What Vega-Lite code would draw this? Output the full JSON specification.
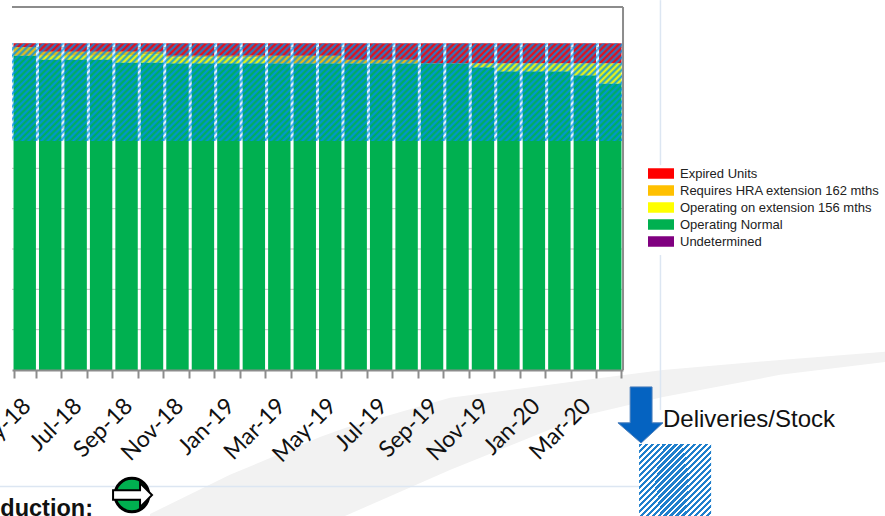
{"$schema":"https://vega.github.io/schema/vega-lite/v6.json","width":885,"height":516,"autosize":{"type":"none"},"padding":0,"background":"white","view":{"stroke":null},
"datasets":{
"units":[
{"month":"May-18","status":"Expired Units","value":10,"rank":4},{"month":"May-18","status":"Requires HRA extension 162 mths","value":21,"rank":3},{"month":"May-18","status":"Operating Normal","value":779,"rank":1},
{"month":"Jun-18","status":"Expired Units","value":21,"rank":4},{"month":"Jun-18","status":"Requires HRA extension 162 mths","value":10,"rank":3},{"month":"Jun-18","status":"Operating on extension 156 mths","value":10,"rank":2},{"month":"Jun-18","status":"Operating Normal","value":769,"rank":1},
{"month":"Jul-18","status":"Expired Units","value":21,"rank":4},{"month":"Jul-18","status":"Requires HRA extension 162 mths","value":10,"rank":3},{"month":"Jul-18","status":"Operating on extension 156 mths","value":10,"rank":2},{"month":"Jul-18","status":"Operating Normal","value":769,"rank":1},
{"month":"Aug-18","status":"Expired Units","value":21,"rank":4},{"month":"Aug-18","status":"Requires HRA extension 162 mths","value":10,"rank":3},{"month":"Aug-18","status":"Operating on extension 156 mths","value":10,"rank":2},{"month":"Aug-18","status":"Operating Normal","value":769,"rank":1},
{"month":"Sep-18","status":"Expired Units","value":21,"rank":4},{"month":"Sep-18","status":"Requires HRA extension 162 mths","value":8,"rank":3},{"month":"Sep-18","status":"Operating on extension 156 mths","value":19,"rank":2},{"month":"Sep-18","status":"Operating Normal","value":762,"rank":1},
{"month":"Oct-18","status":"Expired Units","value":21,"rank":4},{"month":"Oct-18","status":"Requires HRA extension 162 mths","value":6,"rank":3},{"month":"Oct-18","status":"Operating on extension 156 mths","value":21,"rank":2},{"month":"Oct-18","status":"Operating Normal","value":762,"rank":1},
{"month":"Nov-18","status":"Expired Units","value":31,"rank":4},{"month":"Nov-18","status":"Requires HRA extension 162 mths","value":4,"rank":3},{"month":"Nov-18","status":"Operating on extension 156 mths","value":15,"rank":2},{"month":"Nov-18","status":"Operating Normal","value":760,"rank":1},
{"month":"Dec-18","status":"Expired Units","value":31,"rank":4},{"month":"Dec-18","status":"Requires HRA extension 162 mths","value":4,"rank":3},{"month":"Dec-18","status":"Operating on extension 156 mths","value":15,"rank":2},{"month":"Dec-18","status":"Operating Normal","value":760,"rank":1},
{"month":"Jan-19","status":"Expired Units","value":31,"rank":4},{"month":"Jan-19","status":"Requires HRA extension 162 mths","value":4,"rank":3},{"month":"Jan-19","status":"Operating on extension 156 mths","value":15,"rank":2},{"month":"Jan-19","status":"Operating Normal","value":760,"rank":1},
{"month":"Feb-19","status":"Expired Units","value":31,"rank":4},{"month":"Feb-19","status":"Requires HRA extension 162 mths","value":4,"rank":3},{"month":"Feb-19","status":"Operating on extension 156 mths","value":15,"rank":2},{"month":"Feb-19","status":"Operating Normal","value":760,"rank":1},
{"month":"Mar-19","status":"Expired Units","value":31,"rank":4},{"month":"Mar-19","status":"Requires HRA extension 162 mths","value":19,"rank":3},{"month":"Mar-19","status":"Operating Normal","value":760,"rank":1},
{"month":"Apr-19","status":"Expired Units","value":31,"rank":4},{"month":"Apr-19","status":"Requires HRA extension 162 mths","value":19,"rank":3},{"month":"Apr-19","status":"Operating Normal","value":760,"rank":1},
{"month":"May-19","status":"Expired Units","value":31,"rank":4},{"month":"May-19","status":"Requires HRA extension 162 mths","value":19,"rank":3},{"month":"May-19","status":"Operating Normal","value":760,"rank":1},
{"month":"Jun-19","status":"Expired Units","value":41,"rank":4},{"month":"Jun-19","status":"Requires HRA extension 162 mths","value":9,"rank":3},{"month":"Jun-19","status":"Operating Normal","value":760,"rank":1},
{"month":"Jul-19","status":"Expired Units","value":41,"rank":4},{"month":"Jul-19","status":"Requires HRA extension 162 mths","value":9,"rank":3},{"month":"Jul-19","status":"Operating Normal","value":760,"rank":1},
{"month":"Aug-19","status":"Expired Units","value":41,"rank":4},{"month":"Aug-19","status":"Requires HRA extension 162 mths","value":9,"rank":3},{"month":"Aug-19","status":"Operating Normal","value":760,"rank":1},
{"month":"Sep-19","status":"Expired Units","value":50,"rank":4},{"month":"Sep-19","status":"Operating Normal","value":760,"rank":1},
{"month":"Oct-19","status":"Expired Units","value":50,"rank":4},{"month":"Oct-19","status":"Operating Normal","value":760,"rank":1},
{"month":"Nov-19","status":"Expired Units","value":50,"rank":4},{"month":"Nov-19","status":"Operating on extension 156 mths","value":10,"rank":2},{"month":"Nov-19","status":"Operating Normal","value":750,"rank":1},
{"month":"Dec-19","status":"Expired Units","value":50,"rank":4},{"month":"Dec-19","status":"Operating on extension 156 mths","value":20,"rank":2},{"month":"Dec-19","status":"Operating Normal","value":740,"rank":1},
{"month":"Jan-20","status":"Expired Units","value":50,"rank":4},{"month":"Jan-20","status":"Operating on extension 156 mths","value":20,"rank":2},{"month":"Jan-20","status":"Operating Normal","value":740,"rank":1},
{"month":"Feb-20","status":"Expired Units","value":50,"rank":4},{"month":"Feb-20","status":"Operating on extension 156 mths","value":20,"rank":2},{"month":"Feb-20","status":"Operating Normal","value":740,"rank":1},
{"month":"Mar-20","status":"Expired Units","value":50,"rank":4},{"month":"Mar-20","status":"Operating on extension 156 mths","value":30,"rank":2},{"month":"Mar-20","status":"Operating Normal","value":730,"rank":1},
{"month":"Apr-20","status":"Expired Units","value":50,"rank":4},{"month":"Apr-20","status":"Operating on extension 156 mths","value":50,"rank":2},{"month":"Apr-20","status":"Operating Normal","value":710,"rank":1}
],
"hatch":[{"a":0,"b":1},{"a":1,"b":2},{"a":2,"b":3},{"a":3,"b":4},{"a":4,"b":5},{"a":5,"b":6},{"a":6,"b":7},{"a":7,"b":8},{"a":8,"b":9},{"a":9,"b":10},{"a":10,"b":11},{"a":11,"b":12},{"a":12,"b":13},{"a":13,"b":14},{"a":14,"b":15},{"a":15,"b":16},{"a":16,"b":17},{"a":17,"b":18},{"a":18,"b":19},{"a":19,"b":20},{"a":20,"b":21},{"a":21,"b":22},{"a":22,"b":23},{"a":23,"b":24}],
"swoosh":[{"x":5.42,"y":-357,"y2":-362},{"x":8.56,"y":-260,"y2":-362},{"x":12.1,"y":-166,"y2":-362},{"x":13.08,"y":-144,"y2":-362},{"x":17.2,"y":-69,"y2":-248},{"x":22.51,"y":-25,"y2":-112},{"x":25.57,"y":0,"y2":-67},{"x":30.17,"y":25,"y2":-12},{"x":34.29,"y":45,"y2":20}],
"pale":[{"x":25.47,"x2":25.47,"y":917,"y2":508},{"x":25.47,"x2":25.47,"y":285,"y2":-99},{"x":-0.471,"x2":24.67,"y":-289,"y2":-289}],
"grid":[{"y":100},{"y":200},{"y":300},{"y":400},{"y":500},{"y":600},{"y":700},{"y":800}],
"frame":[{"x":0,"x2":24,"y":900,"y2":900},{"x":24,"x2":24,"y":900,"y2":0}],
"swatch":[{"x":24.63,"x2":26.04,"y":-183.5,"y2":-272.7},{"x":26.04,"x2":27.46,"y":-183.5,"y2":-272.7},{"x":24.63,"x2":26.04,"y":-272.7,"y2":-362},{"x":26.04,"x2":27.46,"y":-272.7,"y2":-362}],
"downArrow":[{"y":-42,"x":24.28,"x2":25.14},{"y":-131,"x":24.28,"x2":25.14},{"y":-131,"x":23.8,"x2":25.57},{"y":-181,"x":24.71,"x2":24.71}],
"dial":[{"x":4.71,"y":-310}],
"rightArrow":[{"x":3.97,"y":-298,"y2":-322},{"x":5.03,"y":-298,"y2":-322},{"x":5.03,"y":-280,"y2":-340},{"x":5.5,"y":-310,"y2":-310}],
"delivLabel":[{"x":25.57,"y":-124,"t":"Deliveries/Stock"}],
"prodLabel":[{"x":3.18,"y":-345,"t":"Production:"}]
},
"layer":[
{"data":{"name":"swoosh"},"mark":{"type":"area","fill":"#f2f2f2","orient":"vertical"},"encoding":{"x":{"field":"x","type":"quantitative","axis":null,"scale":{"domain":[-0.471,34.29],"nice":false,"zero":false}},"y":{"field":"y","type":"quantitative","axis":null,"scale":{"domain":[-362,917.4],"nice":false,"zero":false}},"y2":{"field":"y2"}}},
{"data":{"name":"pale"},"mark":{"type":"rule","stroke":"#dce6f2","strokeWidth":1.5},"encoding":{"x":{"field":"x","type":"quantitative","axis":null,"scale":{"domain":[-0.471,34.29],"nice":false,"zero":false}},"x2":{"field":"x2"},"y":{"field":"y","type":"quantitative","axis":null},"y2":{"field":"y2"}}},
{"data":{"name":"grid"},"mark":{"type":"rule","stroke":"#c0c0c0","strokeWidth":1},"encoding":{"x":{"datum":0,"type":"quantitative","axis":null,"scale":{"domain":[-0.471,34.29],"nice":false,"zero":false}},"x2":{"datum":24},"y":{"field":"y","type":"quantitative","axis":null}}},
{"data":{"name":"units"},"mark":{"type":"bar"},"encoding":{
"x":{"field":"month","type":"ordinal","sort":null,"title":null,"scale":{"domain":["May-18","Jun-18","Jul-18","Aug-18","Sep-18","Oct-18","Nov-18","Dec-18","Jan-19","Feb-19","Mar-19","Apr-19","May-19","Jun-19","Jul-19","Aug-19","Sep-19","Oct-19","Nov-19","Dec-19","Jan-20","Feb-20","Mar-20","Apr-20"],"range":[12,623],"paddingInner":0.12,"paddingOuter":0.06},
"axis":{"offset":-146,"zindex":1,"tickBand":"extent","tickSize":8,"tickWidth":2,"tickColor":"#8c8c8c","domainColor":"#8c8c8c","domainWidth":2,"labelAngle":-45,"labelAlign":"right","labelBaseline":"middle","labelPadding":24,"labelOffset":2,"labelFont":"Lato","labelFontSize":23,"labelColor":"#111111","labelOverlap":false,"labelBound":false,"labelFlush":false,"labelExpr":"test(/^(May|Jul|Sep|Nov|Jan|Mar)/, datum.label) ? datum.label : ''"}},
"y":{"field":"value","type":"quantitative","stack":"zero","axis":null,"scale":{"domain":[-362,917.4],"nice":false,"zero":false}},
"order":{"field":"rank","type":"quantitative"},
"color":{"field":"status","type":"nominal","title":null,"scale":{"domain":["Expired Units","Requires HRA extension 162 mths","Operating on extension 156 mths","Operating Normal","Undetermined"],"range":["#ff0000","#ffc000","#ffff00","#00b050","#800080"]},
"legend":{"orient":"none","legendX":648,"legendY":165,"symbolType":"M-1,-0.4H1V0.4H-1Z","symbolSize":676,"symbolStrokeWidth":0,"symbolOpacity":1,"clipHeight":17,"rowPadding":0,"labelFont":"Liberation Sans","labelFontSize":13,"labelColor":"#222222","labelOffset":6,"labelLimit":260}}}},
{"data":{"name":"hatch"},"mark":{"type":"rect","fill":{"gradient":"linear","x1":0,"y1":0,"x2":0.30657,"y2":1.1801,"stops":[
{"offset":0,"color":"rgba(0,145,235,0.9)"},{"offset":0.0258,"color":"rgba(0,145,235,0)"},{"offset":0.0516,"color":"rgba(0,145,235,0.9)"},{"offset":0.0773,"color":"rgba(0,145,235,0)"},{"offset":0.1031,"color":"rgba(0,145,235,0.9)"},{"offset":0.1289,"color":"rgba(0,145,235,0)"},{"offset":0.1547,"color":"rgba(0,145,235,0.9)"},{"offset":0.1804,"color":"rgba(0,145,235,0)"},{"offset":0.2062,"color":"rgba(0,145,235,0.9)"},{"offset":0.232,"color":"rgba(0,145,235,0)"},{"offset":0.2578,"color":"rgba(0,145,235,0.9)"},{"offset":0.2835,"color":"rgba(0,145,235,0)"},{"offset":0.3093,"color":"rgba(0,145,235,0.9)"},{"offset":0.3351,"color":"rgba(0,145,235,0)"},{"offset":0.3609,"color":"rgba(0,145,235,0.9)"},{"offset":0.3866,"color":"rgba(0,145,235,0)"},{"offset":0.4124,"color":"rgba(0,145,235,0.9)"},{"offset":0.4382,"color":"rgba(0,145,235,0)"},{"offset":0.464,"color":"rgba(0,145,235,0.9)"},{"offset":0.4897,"color":"rgba(0,145,235,0)"},{"offset":0.5155,"color":"rgba(0,145,235,0.9)"},{"offset":0.5413,"color":"rgba(0,145,235,0)"},{"offset":0.5671,"color":"rgba(0,145,235,0.9)"},{"offset":0.5928,"color":"rgba(0,145,235,0)"},{"offset":0.6186,"color":"rgba(0,145,235,0.9)"},{"offset":0.6444,"color":"rgba(0,145,235,0)"},{"offset":0.6702,"color":"rgba(0,145,235,0.9)"},{"offset":0.6959,"color":"rgba(0,145,235,0)"},{"offset":0.7217,"color":"rgba(0,145,235,0.9)"},{"offset":0.7475,"color":"rgba(0,145,235,0)"},{"offset":0.7733,"color":"rgba(0,145,235,0.9)"},{"offset":0.799,"color":"rgba(0,145,235,0)"},{"offset":0.8248,"color":"rgba(0,145,235,0.9)"},{"offset":0.8506,"color":"rgba(0,145,235,0)"},{"offset":0.8764,"color":"rgba(0,145,235,0.9)"},{"offset":0.9021,"color":"rgba(0,145,235,0)"},{"offset":0.9279,"color":"rgba(0,145,235,0.9)"},{"offset":0.9537,"color":"rgba(0,145,235,0)"},{"offset":0.9795,"color":"rgba(0,145,235,0.9)"},{"offset":1,"color":"rgba(0,145,235,0.45)"}
]},"stroke":null},"encoding":{"x":{"field":"a","type":"quantitative","axis":null,"scale":{"domain":[-0.471,34.29],"nice":false,"zero":false}},"x2":{"field":"b"},"y":{"datum":810,"type":"quantitative","axis":null},"y2":{"datum":568}}},
{"data":{"name":"frame"},"mark":{"type":"rule","stroke":"#8c8c8c","strokeWidth":2},"encoding":{"x":{"field":"x","type":"quantitative","axis":null,"scale":{"domain":[-0.471,34.29],"nice":false,"zero":false}},"x2":{"field":"x2"},"y":{"field":"y","type":"quantitative","axis":null},"y2":{"field":"y2"}}},
{"data":{"name":"swatch"},"mark":{"type":"rect","fill":{"gradient":"linear","x1":0,"y1":0,"x2":1,"y2":1,"stops":[
{"offset":0,"color":"#1f7fcc"},{"offset":0.05,"color":"#1f7fcc"},{"offset":0.05,"color":"#ffffff"},{"offset":0.0833,"color":"#ffffff"},
{"offset":0.0833,"color":"#1f7fcc"},{"offset":0.1333,"color":"#1f7fcc"},{"offset":0.1333,"color":"#ffffff"},{"offset":0.1667,"color":"#ffffff"},
{"offset":0.1667,"color":"#1f7fcc"},{"offset":0.2167,"color":"#1f7fcc"},{"offset":0.2167,"color":"#ffffff"},{"offset":0.25,"color":"#ffffff"},
{"offset":0.25,"color":"#1f7fcc"},{"offset":0.3,"color":"#1f7fcc"},{"offset":0.3,"color":"#ffffff"},{"offset":0.3333,"color":"#ffffff"},
{"offset":0.3333,"color":"#1f7fcc"},{"offset":0.3833,"color":"#1f7fcc"},{"offset":0.3833,"color":"#ffffff"},{"offset":0.4167,"color":"#ffffff"},
{"offset":0.4167,"color":"#1f7fcc"},{"offset":0.4667,"color":"#1f7fcc"},{"offset":0.4667,"color":"#ffffff"},{"offset":0.5,"color":"#ffffff"},
{"offset":0.5,"color":"#1f7fcc"},{"offset":0.55,"color":"#1f7fcc"},{"offset":0.55,"color":"#ffffff"},{"offset":0.5833,"color":"#ffffff"},
{"offset":0.5833,"color":"#1f7fcc"},{"offset":0.6333,"color":"#1f7fcc"},{"offset":0.6333,"color":"#ffffff"},{"offset":0.6667,"color":"#ffffff"},
{"offset":0.6667,"color":"#1f7fcc"},{"offset":0.7167,"color":"#1f7fcc"},{"offset":0.7167,"color":"#ffffff"},{"offset":0.75,"color":"#ffffff"},
{"offset":0.75,"color":"#1f7fcc"},{"offset":0.8,"color":"#1f7fcc"},{"offset":0.8,"color":"#ffffff"},{"offset":0.8333,"color":"#ffffff"},
{"offset":0.8333,"color":"#1f7fcc"},{"offset":0.8833,"color":"#1f7fcc"},{"offset":0.8833,"color":"#ffffff"},{"offset":0.9167,"color":"#ffffff"},
{"offset":0.9167,"color":"#1f7fcc"},{"offset":0.9667,"color":"#1f7fcc"},{"offset":0.9667,"color":"#ffffff"},{"offset":1,"color":"#ffffff"}
]}},"encoding":{"x":{"field":"x","type":"quantitative","axis":null,"scale":{"domain":[-0.471,34.29],"nice":false,"zero":false}},"x2":{"field":"x2"},"y":{"field":"y","type":"quantitative","axis":null},"y2":{"field":"y2"}}},
{"data":{"name":"downArrow"},"mark":{"type":"area","orient":"horizontal","fill":"#0563c1","stroke":"#4a7ebb","strokeWidth":1},"encoding":{"y":{"field":"y","type":"quantitative","axis":null},"x":{"field":"x","type":"quantitative","axis":null,"scale":{"domain":[-0.471,34.29],"nice":false,"zero":false}},"x2":{"field":"x2"}}},
{"data":{"name":"dial"},"mark":{"type":"point","filled":true,"fill":"#00b050","stroke":"#000000","strokeWidth":3,"size":1134,"opacity":1,"fillOpacity":1,"strokeOpacity":1},"encoding":{"x":{"field":"x","type":"quantitative","axis":null,"scale":{"domain":[-0.471,34.29],"nice":false,"zero":false}},"y":{"field":"y","type":"quantitative","axis":null}}},
{"data":{"name":"rightArrow"},"mark":{"type":"area","orient":"vertical","fill":"#ffffff","stroke":"#000000","strokeWidth":2},"encoding":{"x":{"field":"x","type":"quantitative","axis":null,"scale":{"domain":[-0.471,34.29],"nice":false,"zero":false}},"y":{"field":"y","type":"quantitative","axis":null},"y2":{"field":"y2"}}},
{"data":{"name":"delivLabel"},"mark":{"type":"text","align":"left","baseline":"middle","font":"Liberation Sans","fontSize":24,"color":"#111111"},"encoding":{"x":{"field":"x","type":"quantitative","axis":null,"scale":{"domain":[-0.471,34.29],"nice":false,"zero":false}},"y":{"field":"y","type":"quantitative","axis":null},"text":{"field":"t"}}},
{"data":{"name":"prodLabel"},"mark":{"type":"text","align":"right","baseline":"middle","font":"Liberation Sans","fontWeight":"bold","fontSize":23.5,"color":"#111111"},"encoding":{"x":{"field":"x","type":"quantitative","axis":null,"scale":{"domain":[-0.471,34.29],"nice":false,"zero":false}},"y":{"field":"y","type":"quantitative","axis":null},"text":{"field":"t"}}}
],
"resolve":{"scale":{"x":"independent"}}}
